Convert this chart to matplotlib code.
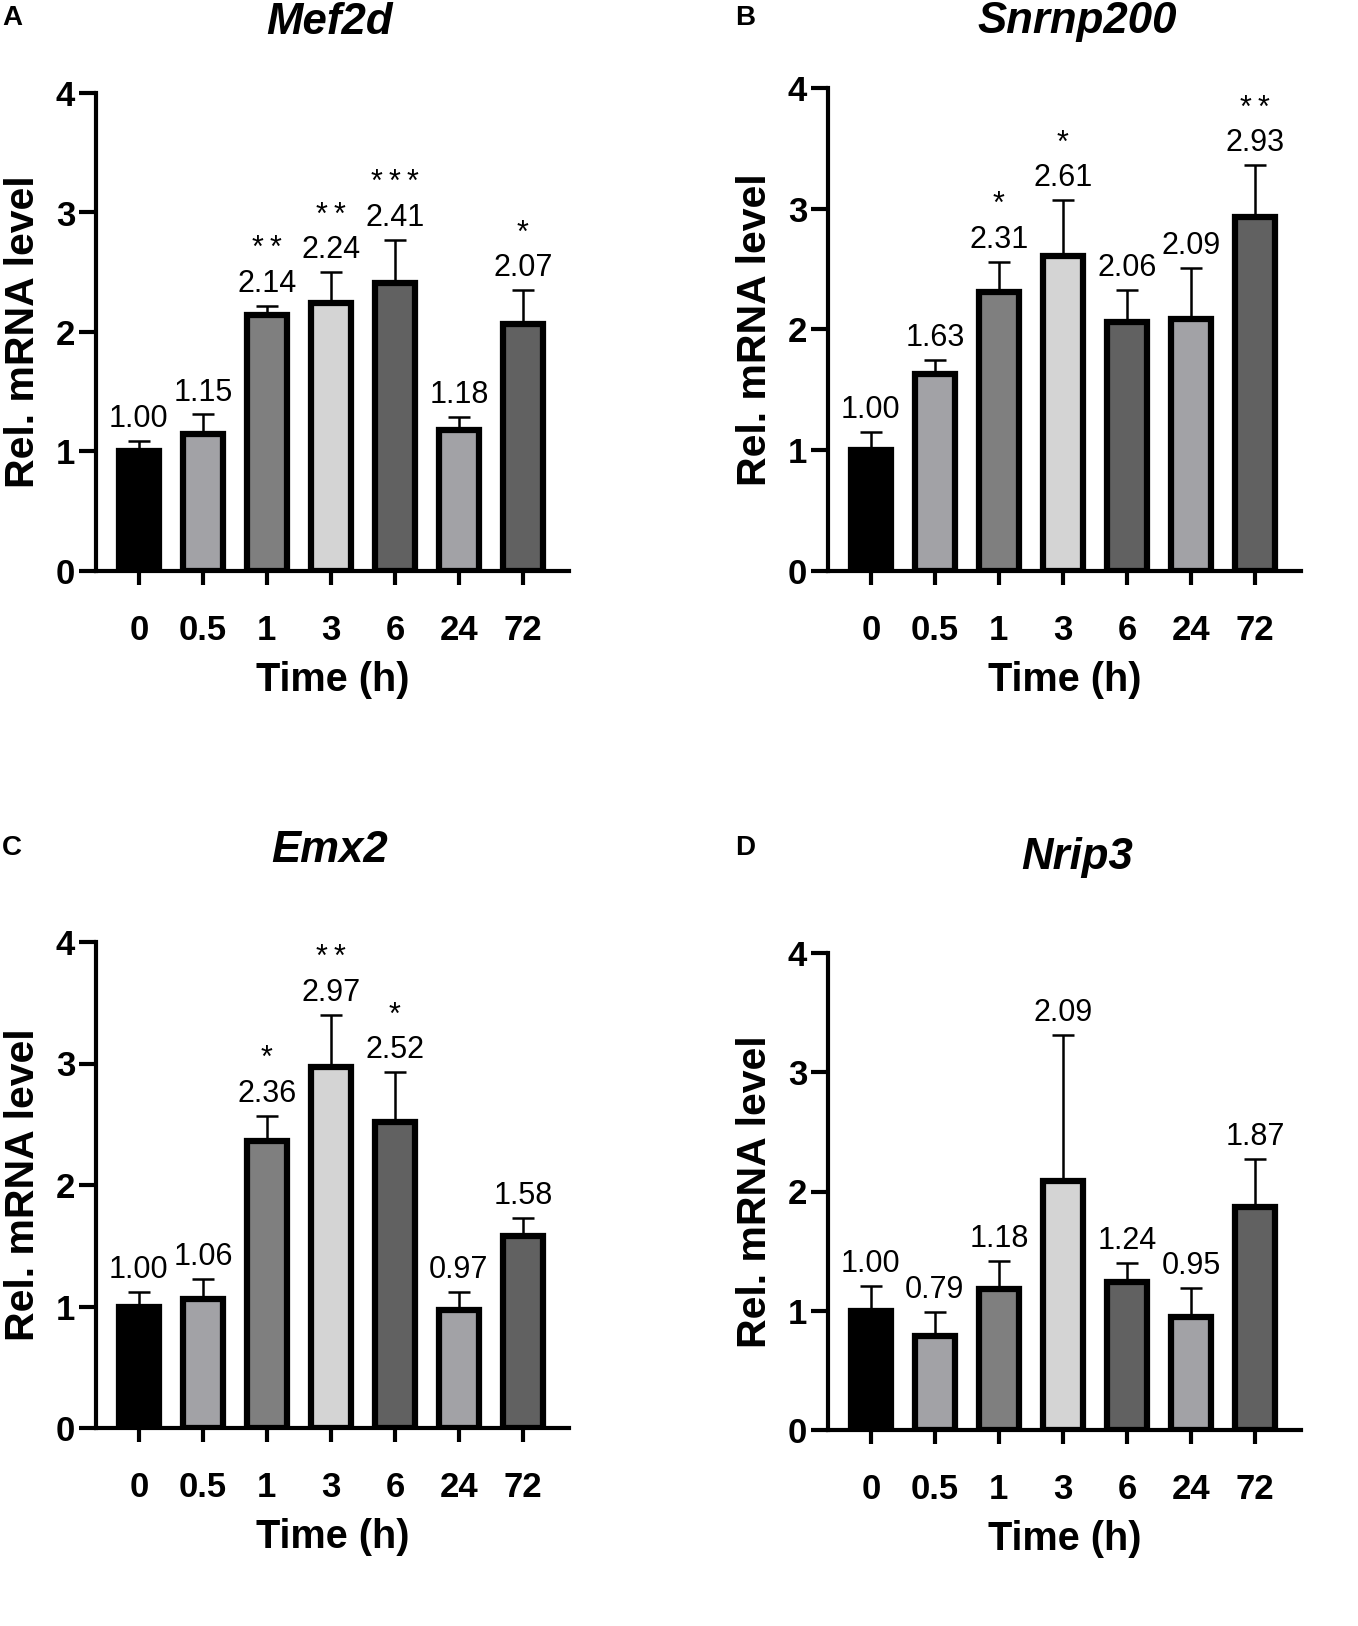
import numpy as np
import matplotlib
matplotlib.use('Agg')
import matplotlib.pyplot as plt

plt.rcParams['font.family'] = ['Liberation Sans', 'DejaVu Sans']

# data
# --------------------------------------------------------------------------
times = ['0', '0.5', '1', '3', '6', '24', '72']
bar_colors = ['#000000', '#a2a2a6', '#7f7f7f', '#d4d4d4', '#616161', '#a2a2a6', '#616161']

genes = ['Mef2d', 'Snrnp200', 'Emx2', 'Nrip3']
panel_tags = ['A', 'B', 'C', 'D']

mef2d_mean = [1.00, 1.15, 2.14, 2.24, 2.41, 1.18, 2.07]
mef2d_err = [0.09, 0.16, 0.08, 0.26, 0.36, 0.11, 0.28]
mef2d_sig = ['', '', '**', '**', '***', '', '*']

snrnp200_mean = [1.00, 1.63, 2.31, 2.61, 2.06, 2.09, 2.93]
snrnp200_err = [0.15, 0.12, 0.25, 0.46, 0.27, 0.42, 0.43]
snrnp200_sig = ['', '', '*', '*', '', '', '**']

emx2_mean = [1.00, 1.06, 2.36, 2.97, 2.52, 0.97, 1.58]
emx2_err = [0.12, 0.17, 0.21, 0.43, 0.41, 0.15, 0.15]
emx2_sig = ['', '', '*', '**', '*', '', '']

nrip3_mean = [1.00, 0.79, 1.18, 2.09, 1.24, 0.95, 1.87]
nrip3_err = [0.21, 0.20, 0.24, 1.22, 0.16, 0.24, 0.40]
nrip3_sig = ['', '', '', '', '', '', '']

panels = [(mef2d_mean, mef2d_err, mef2d_sig),
          (snrnp200_mean, snrnp200_err, snrnp200_sig),
          (emx2_mean, emx2_err, emx2_sig),
          (nrip3_mean, nrip3_err, nrip3_sig)]

# layout in pixels: (left, bottom y, top y)
W, H = 1358, 1626
boxes = [(96, 571, 93), (828, 571, 88), (96, 1428, 942), (828, 1430, 953)]
title_xy = [(330, 22), (1077, 22), (330, 850), (1077, 857)]
tag_xy = [(12, 18), (745, 18), (12, 848), (745, 848)]

fig = plt.figure(figsize=(W / 100, H / 100), dpi=100)

x = np.arange(len(times))
for i_p, ((mean, err, sig), (left, y0, y4)) in enumerate(zip(panels, boxes)):
    ax = fig.add_axes([left / W, 1 - y0 / H, 473 / W, (y0 - y4) / H])
    ax.bar(x, mean, width=0.62, color=bar_colors, edgecolor='black', linewidth=4.5, zorder=2)
    ax.errorbar(x, mean, yerr=[np.zeros(len(err)), err], fmt='none', ecolor='black',
                elinewidth=1.8, capsize=8, capthick=1.8, zorder=1)

    for xi, m, e, s in zip(x, mean, err, sig):
        stars = '\u2009'.join(s)
        label = f'{stars}\n{m:.2f}' if s else f'{m:.2f}'
        ax.annotate(label, xy=(xi, m + e), xytext=(0, 5), textcoords='offset points',
                    ha='center', va='bottom', fontsize=22, linespacing=1.2)

    ax.set_xlim(-0.67, 6.72)
    ax.set_ylim(0, 4)
    ax.set_yticks([0, 1, 2, 3, 4])
    ax.set_xticks(x)
    ax.set_xticklabels(times)
    for sp in ['top', 'right']:
        ax.spines[sp].set_visible(False)
    for sp in ['left', 'bottom']:
        ax.spines[sp].set_linewidth(3)
    ax.spines['left'].set_bounds(0, 4)
    ax.tick_params(axis='y', length=12, width=3, pad=3, labelsize=25)
    ax.tick_params(axis='x', length=10, width=3, pad=21, labelsize=25)
    for lab in ax.get_xticklabels() + ax.get_yticklabels():
        lab.set_fontweight('bold')
    ax.set_ylabel('Rel. mRNA level', fontsize=29.5, fontweight='bold', labelpad=10)
    ax.set_xlabel('Time (h)', fontsize=28.5, fontweight='bold', labelpad=10)

    fig.text(title_xy[i_p][0] / W, 1 - title_xy[i_p][1] / H, genes[i_p], ha='center', va='center',
             fontsize=31.5, fontweight='bold', fontstyle='italic')
    fig.text(tag_xy[i_p][0] / W, 1 - tag_xy[i_p][1] / H, panel_tags[i_p], ha='center', va='center',
             fontsize=20, fontweight='bold')

plt.savefig('out.png', dpi=100)
